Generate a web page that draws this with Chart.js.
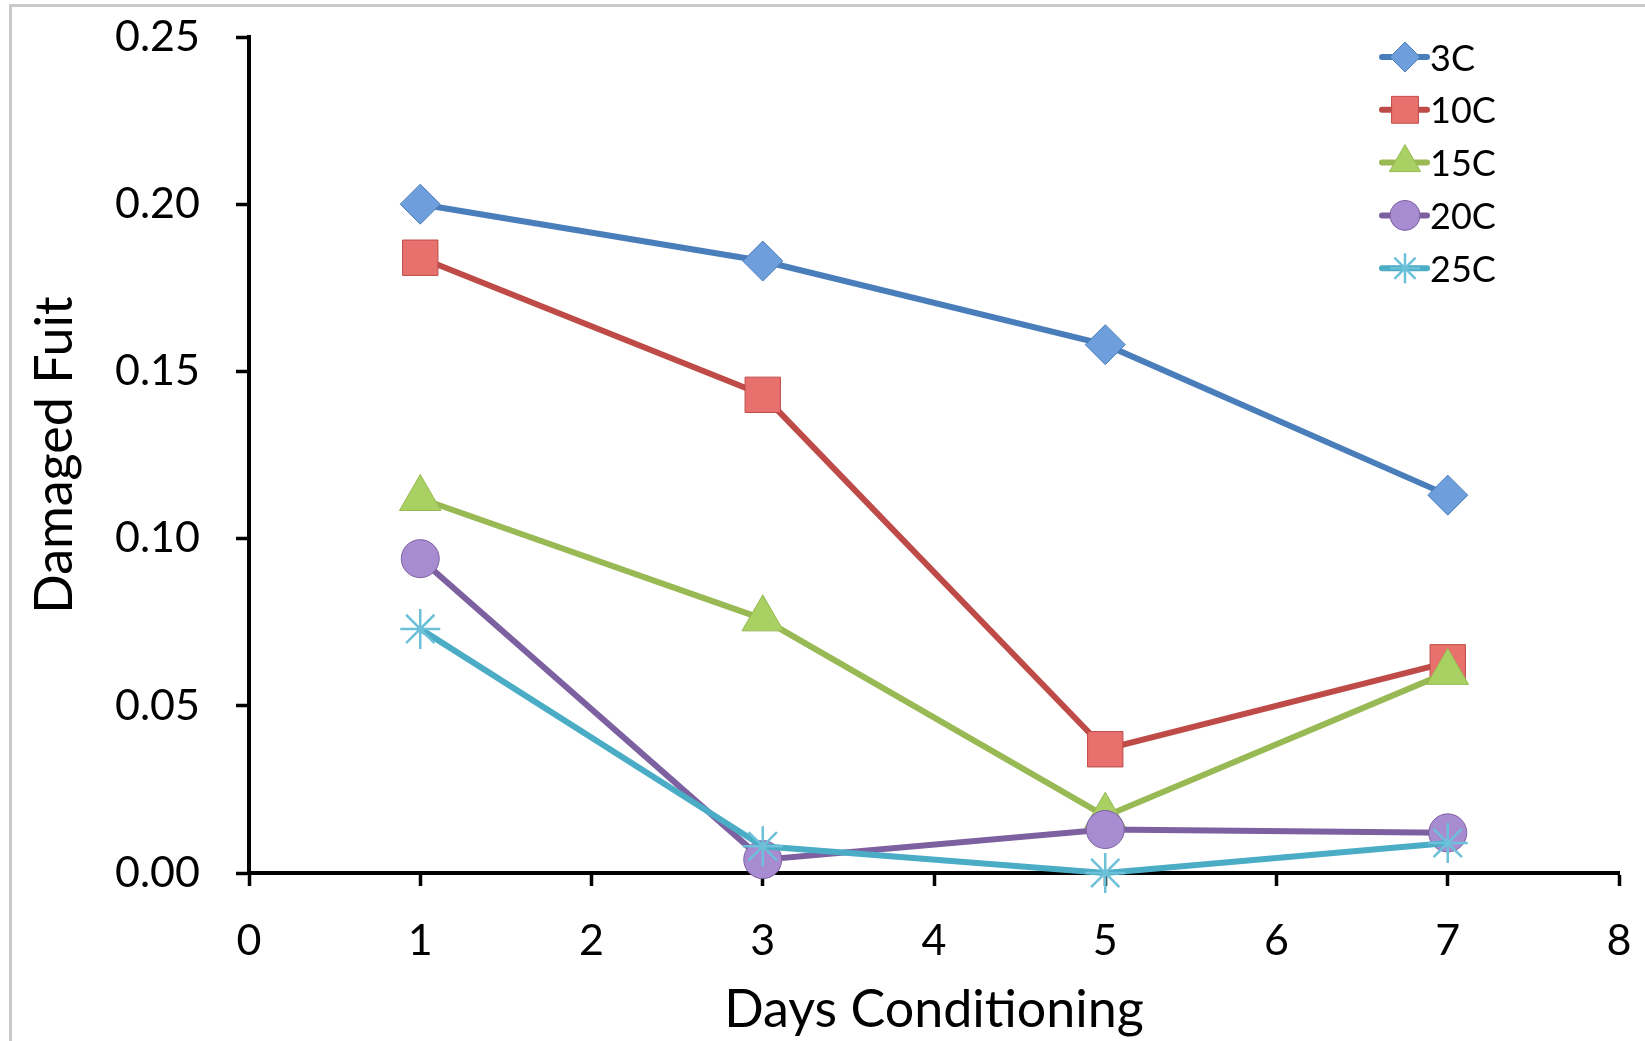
<!DOCTYPE html>
<html>
<head>
<meta charset="utf-8">
<script src="https://cdn.jsdelivr.net/npm/chart.js@4.4.1/dist/chart.umd.min.js"></script>
<style>
  html, body { margin: 0; padding: 0; background: #fff; }
  #wrap { position: relative; width: 1645px; height: 1041px; overflow: hidden; }
  #frame { position: absolute; left: 9px; top: 4px; right: -10px; bottom: -10px;
           border-left: 3px solid #c9c9c9; border-top: 3px solid #c9c9c9; }
  canvas { position: absolute; left: 0; top: 0; }
</style>
</head>
<body>
<div id="wrap">
  <div id="frame"></div>
  <canvas id="c" width="1645" height="1041"></canvas>
</div>
<script>
const days = [1, 3, 5, 7];
const seriesNames = ['3C', '10C', '15C', '20C', '25C'];
const s3C  = [0.200, 0.183, 0.158, 0.113];
const s10C = [0.184, 0.143, 0.037, 0.063];
const s15C = [0.112, 0.076, 0.017, 0.060];
const s20C = [0.094, 0.004, 0.013, 0.012];
const s25C = [0.073, 0.008, 0.000, 0.009];
const xTickValues = [0, 1, 2, 3, 4, 5, 6, 7, 8];
const yTickValues = [0, 0.05, 0.10, 0.15, 0.20, 0.25];
const xTitle = 'Days Conditioning';
const yTitle = 'Damaged Fuit';

const FONT = 'Lato';
const styles = [
  { line: '#4A7EBB', fill: '#6E9FDC', point: 'rectRot',  r: 20, lr: 15 },
  { line: '#BE4B48', fill: '#E8706D', point: 'rect',     r: 25, lr: 19 },
  { line: '#98B954', fill: '#A9D062', point: 'triangle', r: 24, lr: 18 },
  { line: '#7D60A0', fill: '#A88CD2', point: 'circle',   r: 19, lr: 15 },
  { line: '#4BACC6', fill: '#4BACC6', point: 'star',     r: 20, lr: 15 }
];
const allSeries = [s3C, s10C, s15C, s20C, s25C];

const datasets = allSeries.map((vals, i) => ({
  label: seriesNames[i],
  data: days.map((d, j) => ({ x: d, y: vals[j] })),
  borderColor: styles[i].line,
  borderWidth: 6,
  backgroundColor: styles[i].fill,
  pointStyle: styles[i].point,
  pointRadius: styles[i].r,
  pointHoverRadius: styles[i].r,
  pointBackgroundColor: styles[i].fill,
  pointBorderColor: i === 4 ? '#6CC0D8' : styles[i].line,
  pointBorderWidth: i === 4 ? 2.5 : 1,
  tension: 0,
  clip: false,
  order: 5 - i
}));

const legendPlugin = {
  id: 'customLegend',
  afterDraw(chart) {
    const ctx = chart.ctx;
    ctx.save();
    for (let i = 0; i < seriesNames.length; i++) {
      const y = 57 + i * 52.8;
      ctx.strokeStyle = styles[i].line;
      ctx.lineWidth = 6;
      ctx.lineCap = 'round';
      ctx.beginPath();
      ctx.moveTo(1382, y);
      ctx.lineTo(1427, y);
      ctx.stroke();
      ctx.fillStyle = styles[i].fill;
      ctx.strokeStyle = i === 4 ? '#6CC0D8' : styles[i].line;
      ctx.lineWidth = i === 4 ? 2.5 : 1;
      ctx.lineCap = 'butt';
      Chart.helpers.drawPoint(ctx, { pointStyle: styles[i].point, radius: styles[i].lr, rotation: 0, borderWidth: ctx.lineWidth }, 1405, y);
      ctx.fillStyle = '#000';
      ctx.font = '36px ' + FONT;
      ctx.textBaseline = 'middle';
      ctx.textAlign = 'left';
      ctx.fillText(seriesNames[i], 1430, y + 2);
    }
    ctx.restore();
  }
};

new Chart(document.getElementById('c'), {
  type: 'line',
  data: { datasets },
  options: {
    responsive: false,
    animation: false,
    events: [],
    layout: { padding: { top: 37, right: 16, left: 0, bottom: 0 } },
    plugins: { legend: { display: false }, tooltip: { enabled: false } },
    scales: {
      x: {
        type: 'linear',
        min: 0, max: 8,
        afterBuildTicks(scale) { scale.ticks = xTickValues.map(v => ({ value: v })); },
        afterFit(scale) { scale.height = 168; scale.paddingLeft = 0; scale.paddingRight = 0; },
        ticks: { color: '#000', font: { family: FONT, size: 43 }, padding: 29, maxRotation: 0, autoSkip: false,
                 callback: v => String(v) },
        grid: { drawOnChartArea: false, drawTicks: true, tickLength: 13, tickColor: '#000', tickWidth: 3.5 },
        border: { color: '#000', width: 4 },
        title: { display: true, text: xTitle, color: '#000', font: { family: FONT, size: 52 }, padding: { top: 0, bottom: 0 } }
      },
      y: {
        type: 'linear',
        min: 0, max: 0.25,
        afterBuildTicks(scale) { scale.ticks = yTickValues.map(v => ({ value: v })); },
        afterFit(scale) { scale.width = 249; scale.paddingTop = 0; scale.paddingBottom = 0; },
        ticks: { color: '#000', font: { family: FONT, size: 43 }, padding: 36, autoSkip: false,
                 callback: v => Number(v).toFixed(2) },
        grid: { drawOnChartArea: false, drawTicks: true, tickLength: 13, tickColor: '#000', tickWidth: 3.5 },
        border: { color: '#000', width: 4 },
        title: { display: true, text: yTitle, color: '#000', font: { family: FONT, size: 52 }, padding: { top: 24, bottom: 0 } }
      }
    }
  },
  plugins: [legendPlugin]
});
</script>
</body>
</html>
